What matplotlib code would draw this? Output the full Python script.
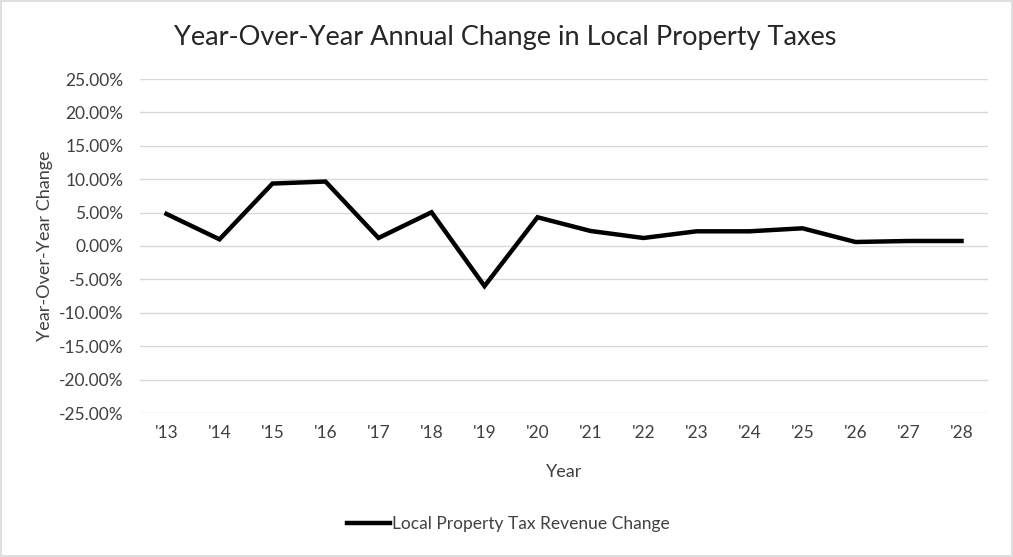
import matplotlib.pyplot as plt
import numpy as np
from matplotlib.ticker import PercentFormatter

years = ["'13", "'14", "'15", "'16", "'17", "'18", "'19", "'20",
         "'21", "'22", "'23", "'24", "'25", "'26", "'27", "'28"]
change = [4.8, 1.0, 9.35, 9.65, 1.2, 5.05, -6.0, 4.3,
          2.25, 1.2, 2.2, 2.2, 2.65, 0.6, 0.75, 0.75]
yticks = [-25, -20, -15, -10, -5, 0, 5, 10, 15, 20, 25]

plt.rcParams['font.family'] = ['Lato', 'DejaVu Sans']
plt.rcParams['axes.unicode_minus'] = False

fig = plt.figure(figsize=(10.13, 5.57), dpi=100)
ax = fig.add_axes([140/1013, 1-413/557, 848/1013, 334/557])

x = np.arange(len(years))
ax.plot(x, change, color='black', linewidth=3.2, solid_joinstyle='miter',
        label='Local Property Tax Revenue Change')

ax.set_xlim(-0.5, len(years) - 0.5)
ax.set_ylim(-25, 25)
ax.set_yticks(yticks)
ax.yaxis.set_major_formatter(PercentFormatter(decimals=2))
ax.set_xticks(x)
ax.set_xticklabels(years)
ax.grid(axis='y', color='#d9d9d9', linewidth=1)
ax.set_axisbelow(True)
for s in ax.spines.values():
    s.set_visible(False)
ax.tick_params(length=0, colors='#404040', labelsize=12.5)
ax.tick_params(axis='y', pad=12)
ax.tick_params(axis='x', pad=9)

ax.set_xlabel('Year', fontsize=13, color='#404040', labelpad=16)
ax.set_ylabel('Year-Over-Year Change', fontsize=13, color='#404040', labelpad=4)
fig.text(505/1013, 1-38/557, 'Year-Over-Year Annual Change in Local Property Taxes',
         ha='center', va='center', fontsize=19.5, color='#262626')

fig.legend(loc='center', bbox_to_anchor=(508/1013, 1-524/557), frameon=False,
           fontsize=12.5, handlelength=2.5, handletextpad=0.1,
           labelcolor='#404040')

fig.patches.append(plt.Rectangle((0.001, 0.001), 0.998, 0.998, transform=fig.transFigure,
                                 fill=False, edgecolor='#d9d9d9', linewidth=1.2))

fig.savefig('out.png', dpi=100)
